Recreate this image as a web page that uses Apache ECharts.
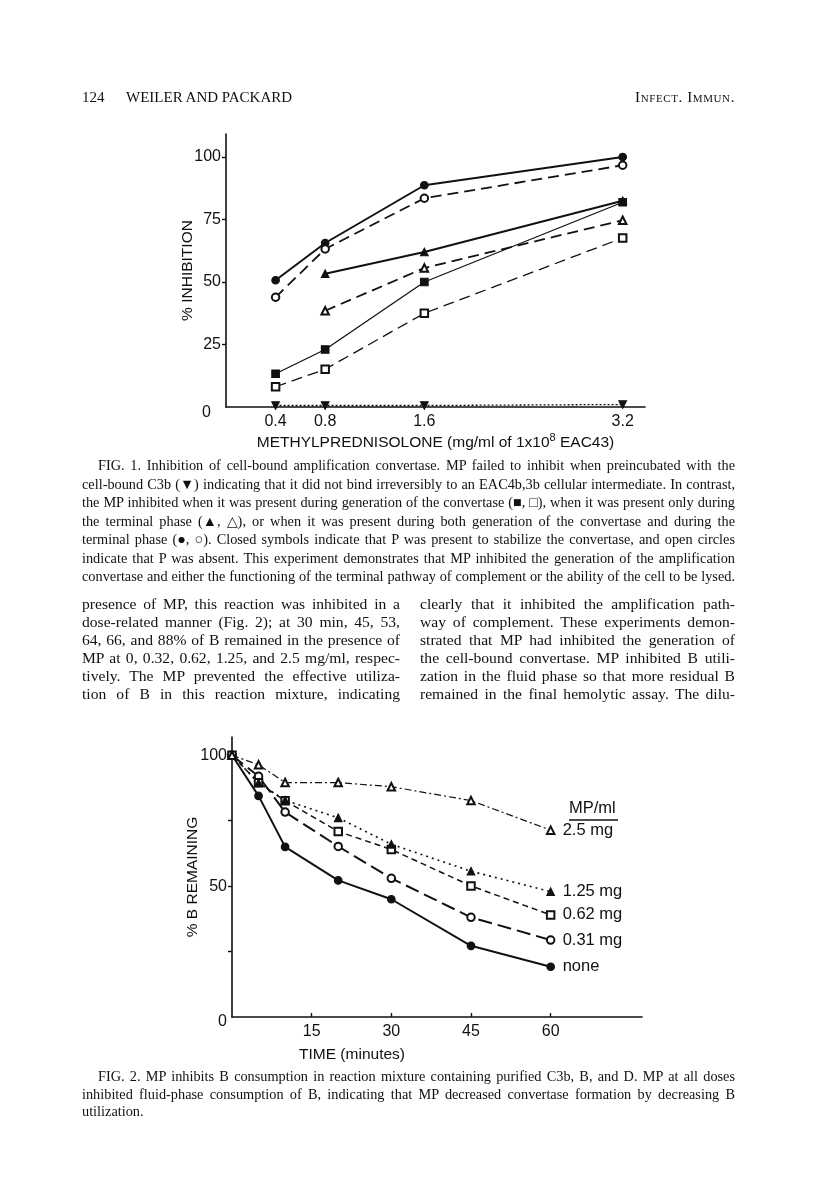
<!DOCTYPE html>
<html>
<head>
<meta charset="utf-8">
<script src="https://cdn.jsdelivr.net/npm/echarts@6/dist/echarts.min.js"></script>
<style>
  html, body { margin: 0; padding: 0; background: #fff; }
  #page { position: relative; width: 816px; height: 1186px; overflow: hidden; background: #fff; }
  #chart { position: absolute; left: 0; top: 0; width: 816px; height: 1186px; }
  .ln { position: absolute; white-space: nowrap; font-family: "Liberation Serif", "Times New Roman", serif; color: #111; line-height: 1; }
  .cap { font-size: 14.3px; }
  .body { font-size: 15.6px; }
  .hdr { font-size: 15px; }
</style>
</head>
<body>
<div id="page">
  <div id="chart"></div>
</div>
<script>
// ---------------- DATA ----------------
// Figure 1
const fig1Doses = [0.4, 0.8, 1.6, 3.2];
const fig1YTicks = [0, 25, 50, 75, 100];
const closedCircle   = [50.7, 65.6, 88.7, 100];
const openCircle     = [43.9, 63.2, 83.5, 96.7];
const closedTriangle = [null, 53.3, 62.0, 82.5];
const openTriangle   = [null, 38.5, 55.6, 74.7];
const closedSquare   = [13.3, 23.0, 50.0, 81.9];
const openSquare     = [8.1, 15.1, 37.5, 67.6];
const downTriangle   = [0.6, 0.6, 0.6, 1.0];

// Figure 2
const fig2Times = [0, 5, 10, 20, 30, 45, 60];
const fig2XTicks = [15, 30, 45, 60];
const fig2YTicks = [0, 50, 100];
const mgNone = [100, 84.5, 65.0, 52.2, 45, 27.2, 19.2];
const mg031  = [100, 92.0, 78.3, 65.2, 53, 38.1, 29.4];
const mg062  = [100, 89.5, 82.6, 70.9, 64, 50.1, 39.0];
const mg125  = [100, 89.5, 82.8, 76.1, 66, 55.7, 47.9];
const mg25   = [100, 96.4, 89.6, 89.6, 88, 82.7, 71.4];
const fig2Labels = ['none', '0.31 mg', '0.62 mg', '1.25 mg', '2.5 mg'];

// ---------------- PAGE TEXT ----------------
const headerLeftNum = '124';
const headerLeft = 'WEILER AND PACKARD';
const headerRight = 'Infect. Immun.';
const caption1 = [
  'FIG. 1. Inhibition of cell-bound amplification convertase. MP failed to inhibit when preincubated with the',
  'cell-bound C3b (\u25BC) indicating that it did not bind irreversibly to an EAC4b,3b cellular intermediate. In contrast,',
  'the MP inhibited when it was present during generation of the convertase (\u25A0, \u25A1), when it was present only during',
  'the terminal phase (\u25B2, \u25B3), or when it was present during both generation of the convertase and during the',
  'terminal phase (\u25CF, \u25CB). Closed symbols indicate that P was present to stabilize the convertase, and open circles',
  'indicate that P was absent. This experiment demonstrates that MP inhibited the generation of the amplification',
  'convertase and either the functioning of the terminal pathway of complement or the ability of the cell to be lysed.'
];
const bodyLeft = [
  'presence of MP, this reaction was inhibited in a',
  'dose-related manner (Fig. 2); at 30 min, 45, 53,',
  '64, 66, and 88% of B remained in the presence of',
  'MP at 0, 0.32, 0.62, 1.25, and 2.5 mg/ml, respec-',
  'tively. The MP prevented the effective utiliza-',
  'tion of B in this reaction mixture, indicating'
];
const bodyRight = [
  'clearly that it inhibited the amplification path-',
  'way of complement. These experiments demon-',
  'strated that MP had inhibited the generation of',
  'the cell-bound convertase. MP inhibited B utili-',
  'zation in the fluid phase so that more residual B',
  'remained in the final hemolytic assay. The dilu-'
];
const caption2 = [
  'FIG. 2. MP inhibits B consumption in reaction mixture containing purified C3b, B, and D. MP at all doses',
  'inhibited fluid-phase consumption of B, indicating that MP decreased convertase formation by decreasing B',
  'utilization.'
];

// ---------------- TEXT LAYOUT ----------------
const page = document.getElementById('page');
function addLine(text, cls, left, centerY, width, justify, extraStyle) {
  const d = document.createElement('div');
  d.className = 'ln ' + cls;
  d.textContent = text;
  d.style.left = left + 'px';
  if (extraStyle) Object.assign(d.style, extraStyle);
  page.appendChild(d);
  const fs = parseFloat(getComputedStyle(d).fontSize);
  d.style.top = (centerY - fs * 0.55) + 'px';
  if (justify && width) {
    const w = d.getBoundingClientRect().width;
    const spaces = (text.match(/ /g) || []).length;
    if (spaces > 0) d.style.wordSpacing = ((width - w) / spaces) + 'px';
  }
  return d;
}
addLine(headerLeftNum, 'hdr', 82, 98);
addLine(headerLeft, 'hdr', 126, 98);
const hr = addLine(headerRight, 'hdr', 0, 98, null, false, { fontVariant: 'small-caps', letterSpacing: '0.6px' });
hr.style.left = (735 - hr.getBoundingClientRect().width) + 'px';

const capL = 82, capR = 735, indent = 16;
caption1.forEach((t, i) => {
  const l = i === 0 ? capL + indent : capL;
  addLine(t, 'cap', l, 466 + i * 18.5, capR - l, true);
});
bodyLeft.forEach((t, i) => addLine(t, 'body', 82, 605 + i * 18, 318, true));
bodyRight.forEach((t, i) => addLine(t, 'body', 420, 605 + i * 18, 315, true));
caption2.forEach((t, i) => {
  const l = i === 0 ? capL + indent : capL;
  addLine(t, 'cap', l, 1077 + i * 17.5, capR - l, i < caption2.length - 1);
});

// ---------------- CHART ----------------
const FONT = '"Liberation Sans", Arial, sans-serif';
const BLACK = '#111';
const chart = echarts.init(document.getElementById('chart'), null, { renderer: 'canvas' });

function pairs(xs, ys) {
  const out = [];
  xs.forEach((x, i) => { if (ys[i] !== null && ys[i] !== undefined) out.push([x, ys[i]]); });
  return out;
}
function fig1Series(name, ys, symbol, lineType, width, opts) {
  return Object.assign({
    name, type: 'line', xAxisIndex: 0, yAxisIndex: 0,
    data: pairs(fig1Doses, ys),
    symbol, symbolSize: 7.5,
    itemStyle: { color: BLACK, borderColor: BLACK, borderWidth: 1.2 },
    lineStyle: { color: BLACK, width, type: lineType },
    animation: false, z: 3
  }, opts || {});
}
function fig2Series(name, ys, symbol, lineType, width, opts) {
  return Object.assign({
    name, type: 'line', xAxisIndex: 1, yAxisIndex: 1,
    data: pairs(fig2Times, ys),
    symbol, symbolSize: 7.5,
    itemStyle: { color: BLACK, borderColor: BLACK, borderWidth: 1.2 },
    lineStyle: { color: BLACK, width, type: lineType },
    endLabel: { show: true, formatter: name, distance: 12, color: BLACK, fontFamily: FONT, fontSize: 16.5 },
    animation: false, z: 3
  }, opts || {});
}

const axisLine = { show: true, lineStyle: { color: BLACK, width: 1.6 } };

const option = {
  animation: false,
  grid: [
    { left: 226, top: 134, width: 419, height: 273, containLabel: false },
    { left: 232, top: 737, width: 410, height: 280, containLabel: false }
  ],
  xAxis: [
    {
      gridIndex: 0, type: 'value', min: 0, max: 3.38,
      axisLine, splitLine: { show: false },
      axisTick: { show: true, inside: true, length: 4, customValues: fig1Doses, lineStyle: { color: BLACK, width: 1.4 } },
      axisLabel: { customValues: fig1Doses, color: BLACK, fontFamily: FONT, fontSize: 16, margin: 7 },
      name: 'METHYLPREDNISOLONE (mg/ml of 1x10{sup|8} EAC43)',
      nameLocation: 'middle', nameGap: 25,
      nameTextStyle: { color: BLACK, fontFamily: FONT, fontSize: 15.5, rich: { sup: { fontSize: 11, verticalAlign: 'top', padding: [0, 0, 10, 0], color: BLACK, fontFamily: FONT } } }
    },
    {
      gridIndex: 1, type: 'value', min: 0, max: 77.2,
      axisLine, splitLine: { show: false },
      axisTick: { show: true, inside: true, length: 4, customValues: fig2XTicks, lineStyle: { color: BLACK, width: 1.4 } },
      axisLabel: { customValues: fig2XTicks, color: BLACK, fontFamily: FONT, fontSize: 16, margin: 7 },
      name: 'TIME (minutes)', nameLocation: 'middle', nameGap: 30,
      nameTextStyle: { color: BLACK, fontFamily: FONT, fontSize: 15.5, padding: [0, 170, 0, 0] }
    }
  ],
  yAxis: [
    {
      gridIndex: 0, type: 'value', min: 0, max: 109.2,
      axisLine, splitLine: { show: false },
      axisTick: { show: true, inside: false, length: 4, customValues: fig1YTicks.slice(1), lineStyle: { color: BLACK, width: 1.4 } },
      axisLabel: {
        customValues: fig1YTicks, margin: 5, color: BLACK, fontFamily: FONT, fontSize: 16,
        formatter: v => v === 0 ? '{z|0}' : String(v),
        rich: { z: { fontFamily: FONT, fontSize: 16, color: BLACK, padding: [12, 10, 0, 0] } }
      },
      name: '% INHIBITION', nameLocation: 'middle', nameGap: 30, nameRotate: 90, nameMoveOverlap: false,
      nameTextStyle: { color: BLACK, fontFamily: FONT, fontSize: 15.5 }
    },
    {
      gridIndex: 1, type: 'value', min: 0, max: 107,
      axisLine, splitLine: { show: false },
      axisTick: { show: true, inside: false, length: 4, customValues: [25, 50, 75, 100], lineStyle: { color: BLACK, width: 1.4 } },
      axisLabel: {
        customValues: fig2YTicks, margin: 5, color: BLACK, fontFamily: FONT, fontSize: 16,
        formatter: v => v === 0 ? '{z|0}' : String(v),
        rich: { z: { fontFamily: FONT, fontSize: 16, color: BLACK, padding: [10, 0, 0, 0] } }
      },
      name: '% B REMAINING', nameLocation: 'middle', nameGap: 31, nameRotate: 90, nameMoveOverlap: false,
      nameTextStyle: { color: BLACK, fontFamily: FONT, fontSize: 15.5 }
    }
  ],
  graphic: [
    { type: 'text', left: 569, top: 800, style: { text: 'MP/ml', font: '16.5px ' + FONT, fill: BLACK } },
    { type: 'line', shape: { x1: 569, y1: 820, x2: 618, y2: 820 }, style: { stroke: BLACK, lineWidth: 1.5 } }
  ],
  series: [
    fig1Series('closedCircle', closedCircle, 'circle', 'solid', 2),
    fig1Series('openCircle', openCircle, 'emptyCircle', [11, 6], 1.8),
    fig1Series('closedTriangle', closedTriangle, 'triangle', 'solid', 2),
    fig1Series('openTriangle', openTriangle, 'emptyTriangle', [11, 6], 1.8),
    fig1Series('closedSquare', closedSquare, 'rect', 'solid', 1.3),
    fig1Series('openSquare', openSquare, 'emptyRect', [11, 6], 1.3),
    fig1Series('downTriangle', downTriangle, 'triangle', [2, 2], 1.3, { symbolRotate: 180 }),

    fig2Series(fig2Labels[0], mgNone, 'circle', 'solid', 2),
    fig2Series(fig2Labels[1], mg031, 'emptyCircle', [14, 6], 2),
    fig2Series(fig2Labels[2], mg062, 'emptyRect', [6, 4], 1.5),
    fig2Series(fig2Labels[3], mg125, 'triangle', [2, 4], 1.6),
    fig2Series(fig2Labels[4], mg25, 'emptyTriangle', [7, 3, 2, 3], 1.2)
  ]
};
chart.setOption(option);
</script>
</body>
</html>
